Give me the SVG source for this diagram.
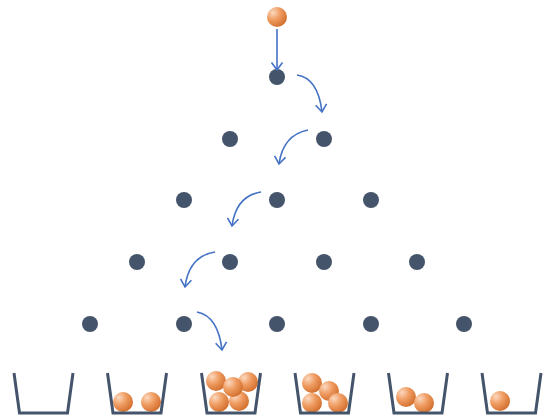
<svg xmlns="http://www.w3.org/2000/svg" width="547" height="419" viewBox="0 0 547 419">
  <defs>
    <radialGradient id="ballFill" cx="0.3" cy="0.28" r="0.8">
      <stop offset="0" stop-color="#fbd8bf"/>
      <stop offset="0.45" stop-color="#f09d63"/>
      <stop offset="1" stop-color="#d06c2a"/>
    </radialGradient>
    <marker id="openHead" markerWidth="14" markerHeight="14" refX="0" refY="0" viewBox="-9 -7 11 14" orient="auto" markerUnits="userSpaceOnUse">
      <path d="M-7.5,-5.5 L0,0 L-7.5,5.5" fill="none" stroke="#4472c4" stroke-width="1.6" stroke-linejoin="miter"/>
    </marker>
    <path id="bucketShape" d="M-29.5,-40 L-24,0 L24,0 L29.5,-40"/>
  </defs>
  <style>
    .peg { fill: #44546a; }
    .ball { fill: url(#ballFill); }
    .bucket { fill: none; stroke: #44546a; stroke-width: 3; stroke-linejoin: miter; }
    .flow { fill: none; stroke: #4472c4; stroke-width: 1.6; marker-end: url(#openHead); }
  </style>

  <!-- falling ball -->
  <g id="drop-ball">
    <circle class="ball" cx="277" cy="17" r="10"/>
  </g>

  <!-- peg board -->
  <g id="pegs">
    <circle class="peg" cx="277" cy="77" r="8"/>
    <circle class="peg" cx="230" cy="139" r="8"/>
    <circle class="peg" cx="324" cy="139" r="8"/>
    <circle class="peg" cx="184" cy="200" r="8"/>
    <circle class="peg" cx="277" cy="200" r="8"/>
    <circle class="peg" cx="371" cy="200" r="8"/>
    <circle class="peg" cx="137" cy="262" r="8"/>
    <circle class="peg" cx="230" cy="262" r="8"/>
    <circle class="peg" cx="324" cy="262" r="8"/>
    <circle class="peg" cx="417" cy="262" r="8"/>
    <circle class="peg" cx="90" cy="324" r="8"/>
    <circle class="peg" cx="184" cy="324" r="8"/>
    <circle class="peg" cx="277" cy="324" r="8"/>
    <circle class="peg" cx="371" cy="324" r="8"/>
    <circle class="peg" cx="464" cy="324" r="8"/>
  </g>

  <!-- path of the ball -->
  <g id="connectors">
    <path class="flow" d="M277,29 L277,70"/>
    <path class="flow" d="M297,75 Q318,78 322,112"/>
    <path class="flow" d="M308,130 Q283,135 279,164"/>
    <path class="flow" d="M261,192 Q236,196 232,226"/>
    <path class="flow" d="M215,252 Q189,256 185,287"/>
    <path class="flow" d="M197,312 Q218,316 222,350"/>
  </g>

  <!-- collection bins -->
  <g id="bin-1">
    <use href="#bucketShape" class="bucket" transform="translate(43.5,413)"/>
  </g>
  <g id="bin-2">
    <circle class="ball" cx="123" cy="402" r="10"/>
    <circle class="ball" cx="151" cy="402" r="10"/>
    <use href="#bucketShape" class="bucket" transform="translate(137,413)"/>
  </g>
  <g id="bin-3">
    <circle class="ball" cx="216" cy="381" r="10"/>
    <circle class="ball" cx="248" cy="382" r="10"/>
    <circle class="ball" cx="219" cy="402" r="10"/>
    <circle class="ball" cx="239" cy="401" r="10"/>
    <circle class="ball" cx="233" cy="387" r="10"/>
    <use href="#bucketShape" class="bucket" transform="translate(231,413)"/>
  </g>
  <g id="bin-4">
    <circle class="ball" cx="312" cy="383" r="10"/>
    <circle class="ball" cx="329" cy="391" r="10"/>
    <circle class="ball" cx="312" cy="403" r="10"/>
    <circle class="ball" cx="338" cy="403" r="10"/>
    <use href="#bucketShape" class="bucket" transform="translate(324.5,413)"/>
  </g>
  <g id="bin-5">
    <circle class="ball" cx="406" cy="397" r="10"/>
    <circle class="ball" cx="424" cy="403" r="10"/>
    <use href="#bucketShape" class="bucket" transform="translate(418,413)"/>
  </g>
  <g id="bin-6">
    <circle class="ball" cx="500" cy="401" r="10"/>
    <use href="#bucketShape" class="bucket" transform="translate(511.5,413)"/>
  </g>
</svg>
